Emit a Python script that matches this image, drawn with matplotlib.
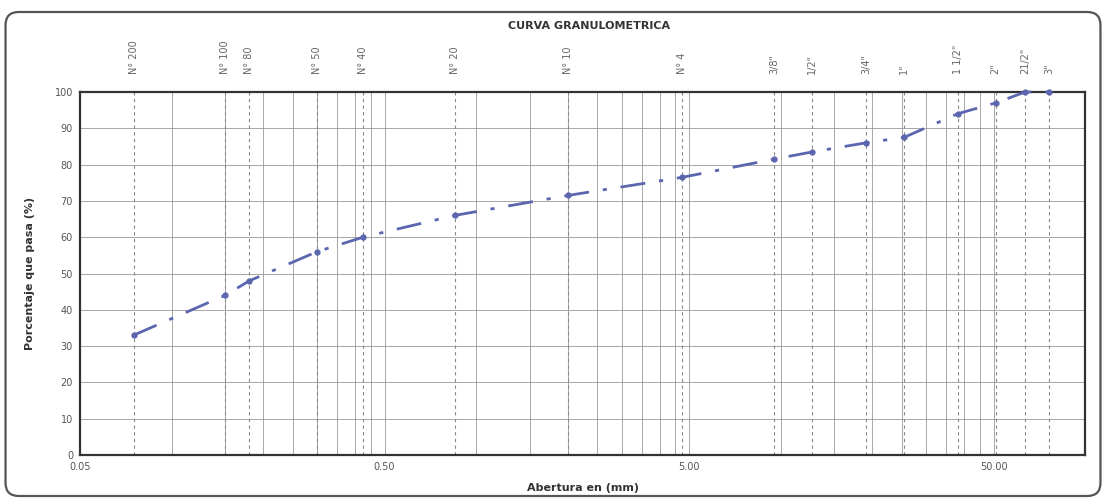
import matplotlib.pyplot as plt
import numpy as np
from matplotlib.patches import FancyBboxPatch
from matplotlib.ticker import FixedLocator, NullFormatter

# tamices: etiqueta, abertura (mm), % que pasa
tamiz = ['N° 200', 'N° 100', 'N° 80', 'N° 50', 'N° 40', 'N° 20', 'N° 10', 'N° 4',
         '3/8"', '1/2"', '3/4"', '1"', '1 1/2"', '2"', '21/2"', '3"']
abertura = [0.075, 0.15, 0.18, 0.30, 0.425, 0.85, 2.0, 4.75,
            9.5, 12.7, 19.05, 25.4, 38.1, 50.8, 63.5, 76.2]
pasa = [33, 44, 48, 56, 60, 66, 71.5, 76.5,
        81.5, 83.5, 86, 87.5, 94, 97, 100, 100]

xticks = [0.05, 0.5, 5.0, 50.0]
xticklabels = ['0.05', '0.50', '5.00', '50.00']

fig = plt.figure(figsize=(11.06, 5.0), dpi=100)
ax = fig.add_axes([0.0723, 0.09, 0.909, 0.726])

# marco redondeado de la figura
frame = FancyBboxPatch((0.005, 0.008), 0.99, 0.968, boxstyle='round,pad=0,rounding_size=0.012',
                       transform=fig.transFigure, fill=False, edgecolor='#555555', lw=1.6,
                       mutation_aspect=2.2)
fig.patches.append(frame)

ax.set_xscale('log')
ax.set_xlim(0.05, 100)
ax.set_ylim(0, 100)

# cuadricula: multiplos de 0.05 en cada decada
minors = []
for d in [0.05, 0.5, 5.0]:
    minors += list(d * np.arange(2, 10))
minors += [100]
ax.xaxis.set_major_locator(FixedLocator(xticks))
ax.set_xticklabels(xticklabels)
ax.xaxis.set_minor_locator(FixedLocator(minors))
ax.xaxis.set_minor_formatter(NullFormatter())
ax.set_yticks(range(0, 101, 10))
ax.grid(True, which='both', axis='x', color='#999999', lw=0.6)
ax.grid(True, which='major', axis='y', color='#999999', lw=0.6)
ax.tick_params(which='both', length=0, labelsize=7, colors='#555555', pad=5)
for s in ax.spines.values():
    s.set_linewidth(1.6)
    s.set_color('#333333')

# lineas de tamices y etiquetas superiores
for lab, x in zip(tamiz, abertura):
    ax.axvline(x, color='#888888', lw=0.8, ls=(0, (3, 3)))
    ax.text(x, 1.05, lab, transform=ax.get_xaxis_transform(), rotation=90,
            ha='center', va='bottom', fontsize=7, color='#666666')

ax.plot(abertura, pasa, color='#5b66ae', lw=2.0, dashes=(9, 5, 1.5, 5),
        marker='o', ms=3.5, clip_on=False, zorder=5)

fig.text(0.533, 0.948, 'CURVA GRANULOMETRICA', ha='center', va='center',
         fontsize=8, fontweight='bold', color='#333333')
ax.set_ylabel('Porcentaje que pasa (%)', fontsize=8, fontweight='bold', color='#333333', labelpad=14)
ax.set_xlabel('Abertura en (mm)', fontsize=8, fontweight='bold', color='#333333', labelpad=8)

fig.savefig('out.png', dpi=100)
